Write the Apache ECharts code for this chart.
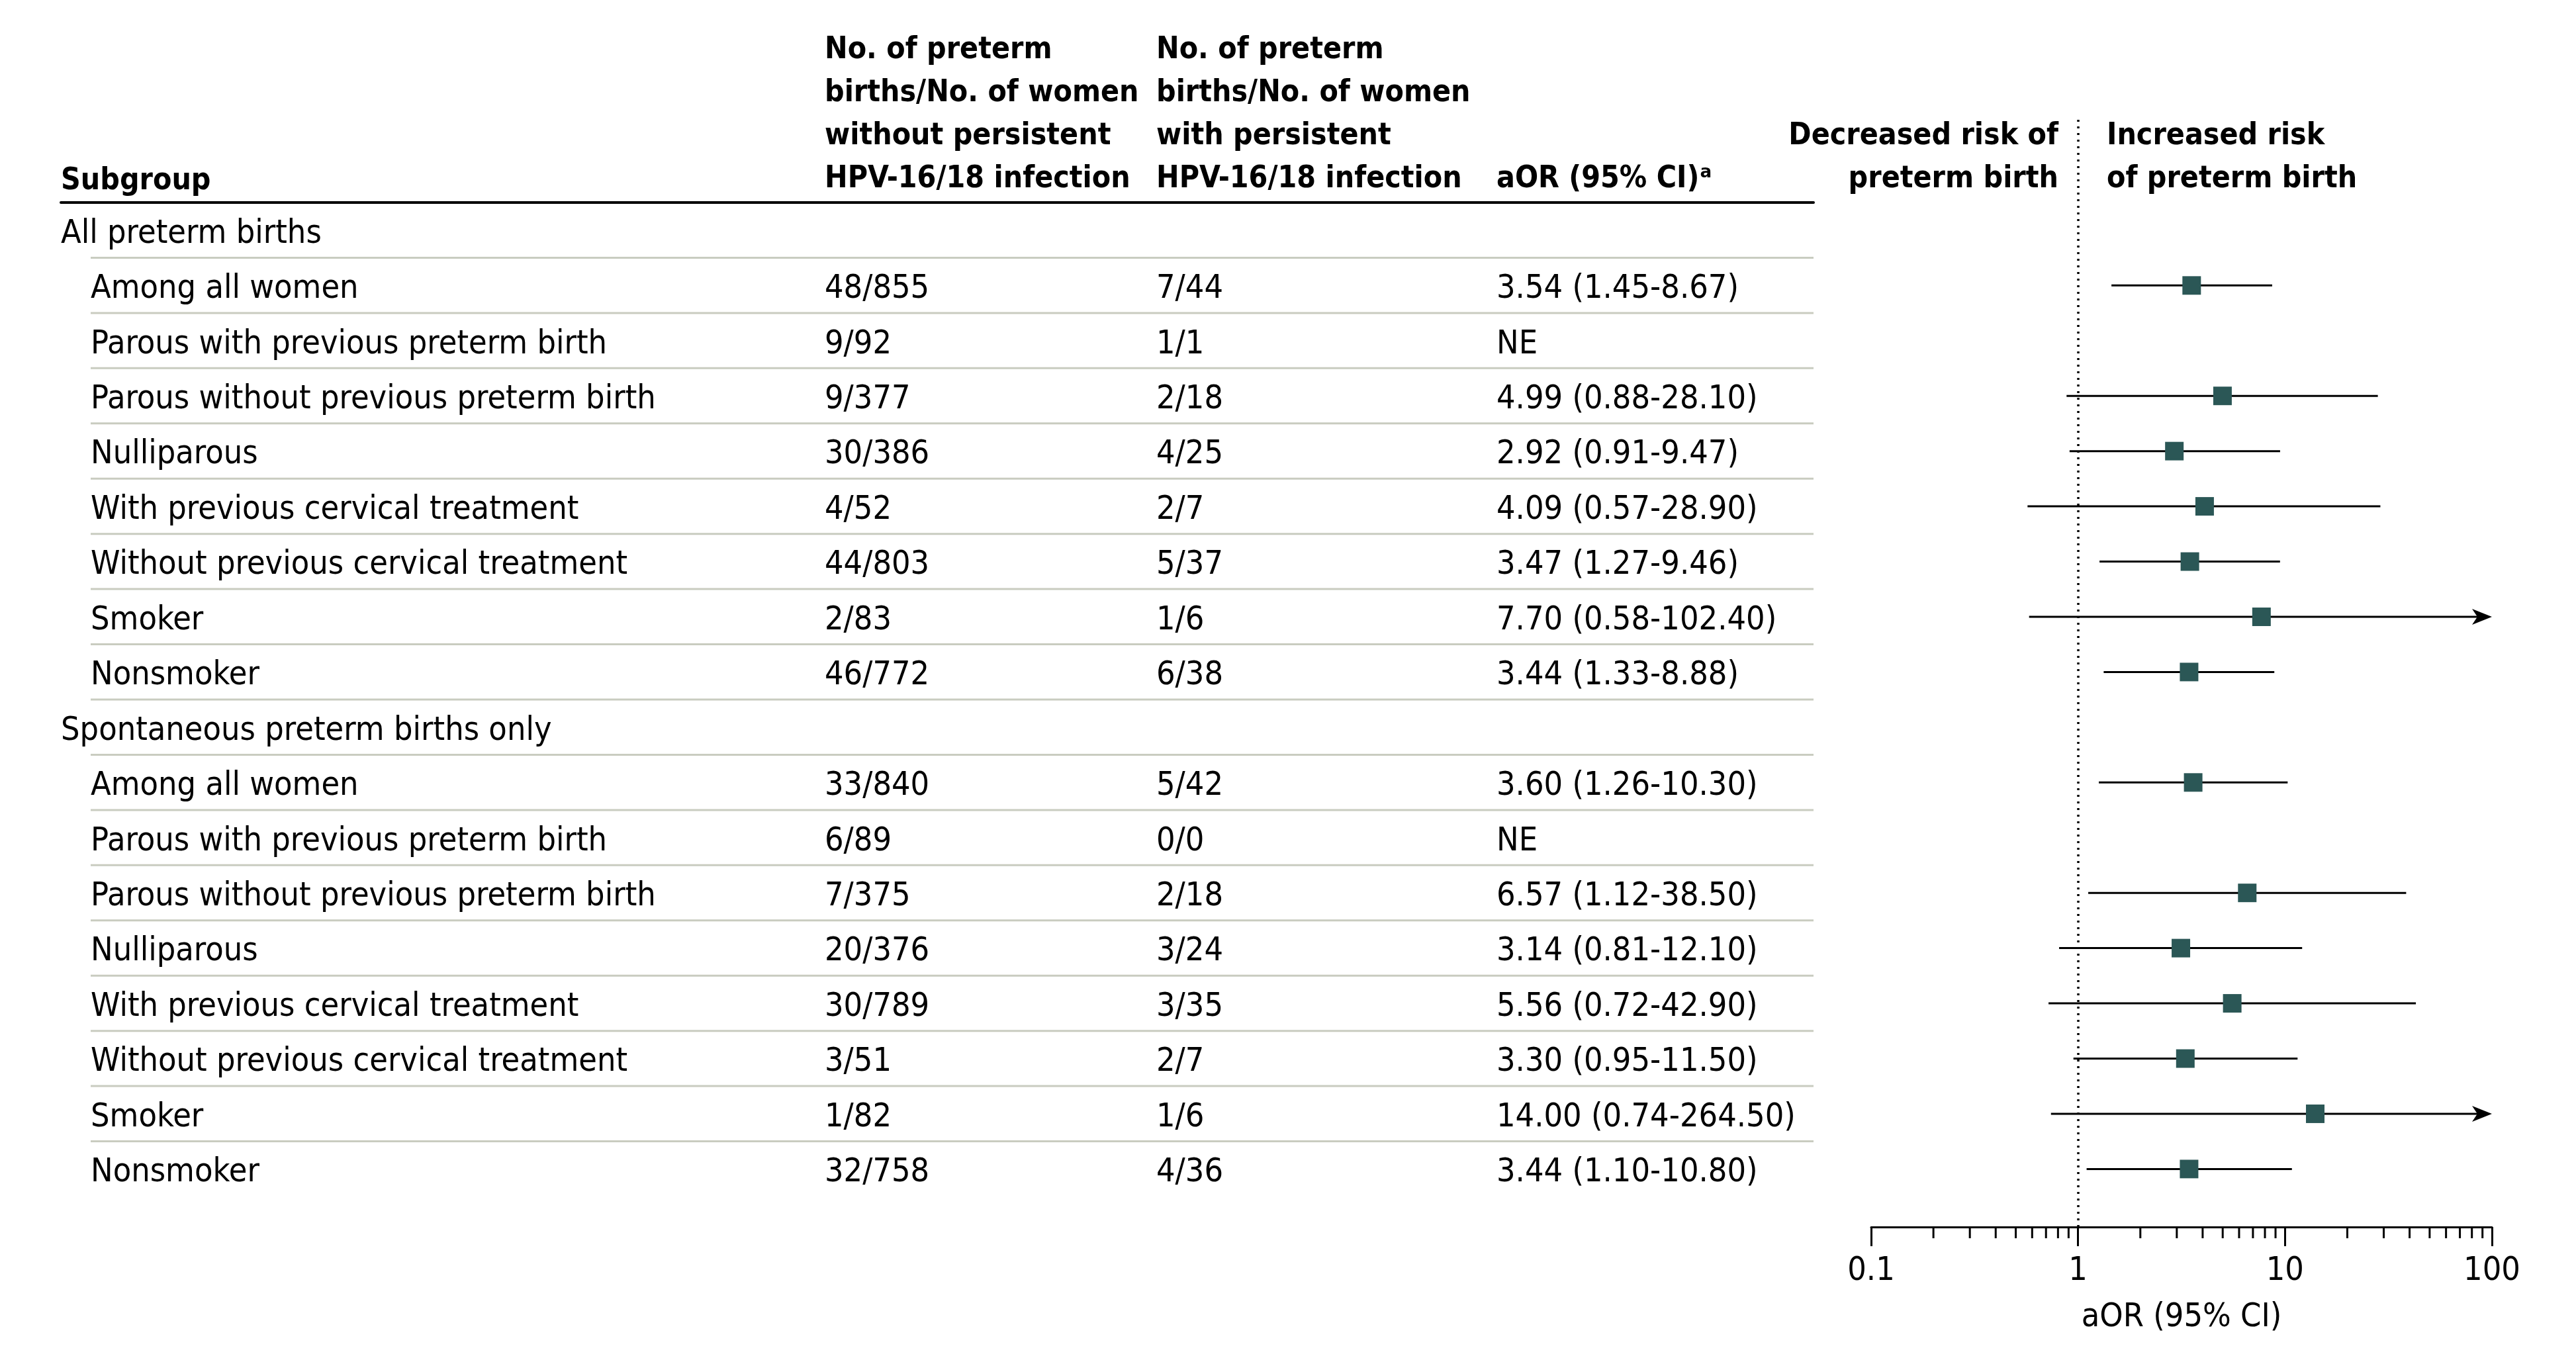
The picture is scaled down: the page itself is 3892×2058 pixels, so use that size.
<!doctype html>
<html>
<head>
  <meta charset="utf-8">
  <title>HPV-16/18 and preterm birth</title>
  <script src="https://cdn.jsdelivr.net/npm/echarts@6/dist/echarts.min.js"></script>
  <style>html,body{margin:0;padding:0;background:#fff;}</style>
</head>
<body>
  <div id="main" style="width:3892px;height:2058px;"></div>
  <script>
  // ---- data ----
  var sections = ['All preterm births', 'Spontaneous preterm births only'];
  var subgroups = ['Among all women', 'Parous with previous preterm birth', 'Parous without previous preterm birth',
    'Nulliparous', 'With previous cervical treatment', 'Without previous cervical treatment', 'Smoker', 'Nonsmoker'];
  var countsWithout = [
    ['48/855', '9/92', '9/377', '30/386', '4/52', '44/803', '2/83', '46/772'],
    ['33/840', '6/89', '7/375', '20/376', '30/789', '3/51', '1/82', '32/758']
  ];
  var countsWith = [
    ['7/44', '1/1', '2/18', '4/25', '2/7', '5/37', '1/6', '6/38'],
    ['5/42', '0/0', '2/18', '3/24', '3/35', '2/7', '1/6', '4/36']
  ];
  var aor = [
    [3.54, null, 4.99, 2.92, 4.09, 3.47, 7.70, 3.44],
    [3.60, null, 6.57, 3.14, 5.56, 3.30, 14.00, 3.44]
  ];
  var ciLow = [
    [1.45, null, 0.88, 0.91, 0.57, 1.27, 0.58, 1.33],
    [1.26, null, 1.12, 0.81, 0.72, 0.95, 0.74, 1.10]
  ];
  var ciHigh = [
    [8.67, null, 28.10, 9.47, 28.90, 9.46, 102.40, 8.88],
    [10.30, null, 38.50, 12.10, 42.90, 11.50, 264.50, 10.80]
  ];
  var minorTicks = [0.2, 0.3, 0.4, 0.5, 0.6, 0.7, 0.8, 0.9, 2, 3, 4, 5, 6, 7, 8, 9, 20, 30, 40, 50, 60, 70, 80, 90];

  var FONT = "'DejaVu Sans Condensed', 'Liberation Sans Narrow', 'DejaVu Sans', sans-serif";
  var FS = 50;
  var HFS = 46;
  var X_MIN = 0.1, X_MAX = 100;
  var Y_MIN = -2, Y_MAX = 18.05;
  var NUDGE = 6; // table text sits a little below the row centre

  // build table rows
  var colHeading = [], colName = [], colWithout = [], colWith = [], colAor = [];
  var points = [], cis = [], seps = [];
  var row = 0;
  for (var s = 0; s < sections.length; s++) {
    colHeading.push(sections[s]); colName.push(''); colWithout.push(''); colWith.push(''); colAor.push('');
    row++;
    for (var i = 0; i < subgroups.length; i++) {
      colHeading.push('');
      colName.push(subgroups[i]);
      colWithout.push(countsWithout[s][i]);
      colWith.push(countsWith[s][i]);
      if (aor[s][i] == null) {
        colAor.push('NE');
      } else {
        colAor.push(aor[s][i].toFixed(2) + ' (' + ciLow[s][i].toFixed(2) + '-' + ciHigh[s][i].toFixed(2) + ')');
        points.push([aor[s][i], row]);
        cis.push([ciLow[s][i], ciHigh[s][i], row]);
      }
      row++;
    }
  }
  for (var r = 0; r < row - 1; r++) seps.push([0, r]);

  var tableLeft = 92;
  function tableAxis(data, x) {
    return {
      type: 'category', gridIndex: 0, inverse: true, data: data,
      position: 'left', offset: tableLeft - x,
      axisLine: {show: false}, axisTick: {show: false}, splitLine: {show: false},
      axisLabel: {show: true, interval: 0, margin: 0, align: 'left', color: '#000',
        fontSize: FS, fontFamily: FONT}
    };
  }

  function headText(text, x, y, align) {
    return {
      type: 'text', x: x, y: y, silent: true,
      style: {text: text, fill: '#000', font: 'bold ' + HFS + 'px ' + FONT,
        align: align || 'left', verticalAlign: 'top', lineHeight: 65}
    };
  }

  var option = {
    animation: false,
    backgroundColor: '#fff',
    grid: [
      {left: tableLeft, right: 1152, top: 306 + NUDGE, bottom: 250 - NUDGE, outerBoundsMode: 'none'},
      {left: 2827, right: 127, top: 181, bottom: 204, outerBoundsMode: 'none'}
    ],
    xAxis: [
      {type: 'value', gridIndex: 0, min: 0, max: 1, position: 'top', offset: NUDGE,
        axisLine: {show: true, onZero: false, lineStyle: {color: '#000', width: 4}},
        axisTick: {show: false}, axisLabel: {show: false}, splitLine: {show: false}},
      {type: 'log', logBase: 10, gridIndex: 1, min: X_MIN, max: X_MAX, position: 'bottom',
        axisLine: {show: true, onZero: false, lineStyle: {color: '#000', width: 3}},
        axisTick: {show: true, length: 29, lineStyle: {color: '#000', width: 3}},
        axisLabel: {show: true, color: '#000', fontSize: FS, fontFamily: FONT, margin: 42,
          formatter: function (v) { return String(v); }},
        splitLine: {show: false}, minorTick: {show: false},
        name: 'aOR (95% CI)', nameLocation: 'middle', nameGap: 112,
        nameTextStyle: {color: '#000', fontSize: FS, fontFamily: FONT}}
    ],
    yAxis: [
      tableAxis(colHeading, 92),
      tableAxis(colName, 137),
      tableAxis(colWithout, 1246),
      tableAxis(colWith, 1747),
      tableAxis(colAor, 2261),
      {type: 'value', gridIndex: 1, inverse: true, min: Y_MIN, max: Y_MAX, show: false,
        splitLine: {show: false}}
    ],
    graphic: [
      headText('Subgroup', 92, 274 - 32.5),
      headText('No. of preterm\nbirths/No. of women\nwithout persistent\nHPV-16/18 infection', 1246, 76 - 32.5),
      headText('No. of preterm\nbirths/No. of women\nwith persistent\nHPV-16/18 infection', 1747, 76 - 32.5),
      headText('aOR (95% CI)\u1d43', 2261, 271 - 32.5),
      headText('Decreased risk of\npreterm birth', 3110, 206 - 32.5, 'right'),
      headText('Increased risk\nof preterm birth', 3183, 206 - 32.5, 'left')
    ],
    series: [
      {
        // row separators
        type: 'custom', xAxisIndex: 0, yAxisIndex: 0, silent: true,
        encode: {x: 0, y: 1},
        data: seps,
        renderItem: function (params, api) {
          var c = api.coord([0, api.value(1)]);
          var h = api.size([0, 1])[1];
          var cs = params.coordSys;
          var y = c[1] + h / 2 - NUDGE;
          return {type: 'line', shape: {x1: cs.x + 45, y1: y, x2: cs.x + cs.width, y2: y},
            style: {stroke: '#c9ccc0', lineWidth: 3}};
        }
      },
      {
        // log minor ticks
        type: 'custom', xAxisIndex: 1, yAxisIndex: 5, silent: true, clip: false,
        encode: {x: 0},
        data: minorTicks.map(function (v) { return [v]; }),
        renderItem: function (params, api) {
          var c = api.coord([api.value(0), Y_MAX]);
          return {type: 'line', shape: {x1: c[0], y1: c[1], x2: c[0], y2: c[1] + 17},
            style: {stroke: '#000', lineWidth: 3}};
        }
      },
      {
        // confidence intervals
        type: 'custom', xAxisIndex: 1, yAxisIndex: 5, silent: true, clip: false,
        encode: {x: [0, 1], y: 2},
        data: cis,
        renderItem: function (params, api) {
          var rr = api.value(2);
          var hi = api.value(1);
          var a = api.coord([api.value(0), rr]);
          var b = api.coord([Math.min(hi, X_MAX), rr]);
          var children = [];
          if (hi > X_MAX) {
            children.push({type: 'line', shape: {x1: a[0], y1: a[1], x2: b[0] - 20, y2: b[1]},
              style: {stroke: '#000', lineWidth: 3}});
            children.push({type: 'polygon',
              shape: {points: [[b[0], b[1]], [b[0] - 30, b[1] - 12], [b[0] - 22, b[1]], [b[0] - 30, b[1] + 12]]},
              style: {fill: '#000'}});
          } else {
            children.push({type: 'line', shape: {x1: a[0], y1: a[1], x2: b[0], y2: b[1]},
              style: {stroke: '#000', lineWidth: 3}});
          }
          return {type: 'group', children: children};
        }
      },
      {
        type: 'scatter', xAxisIndex: 1, yAxisIndex: 5, silent: true, z: 5,
        symbol: 'rect', symbolSize: [28, 28],
        itemStyle: {color: '#2b5756', opacity: 1},
        data: points,
        markLine: {
          silent: true, symbol: ['none', 'none'], label: {show: false},
          lineStyle: {color: '#000', type: [3, 7], width: 3.5},
          data: [{xAxis: 1}]
        }
      }
    ]
  };

  var myChart = echarts.init(document.getElementById('main'));
  myChart.setOption(option);
  </script>
</body>
</html>
